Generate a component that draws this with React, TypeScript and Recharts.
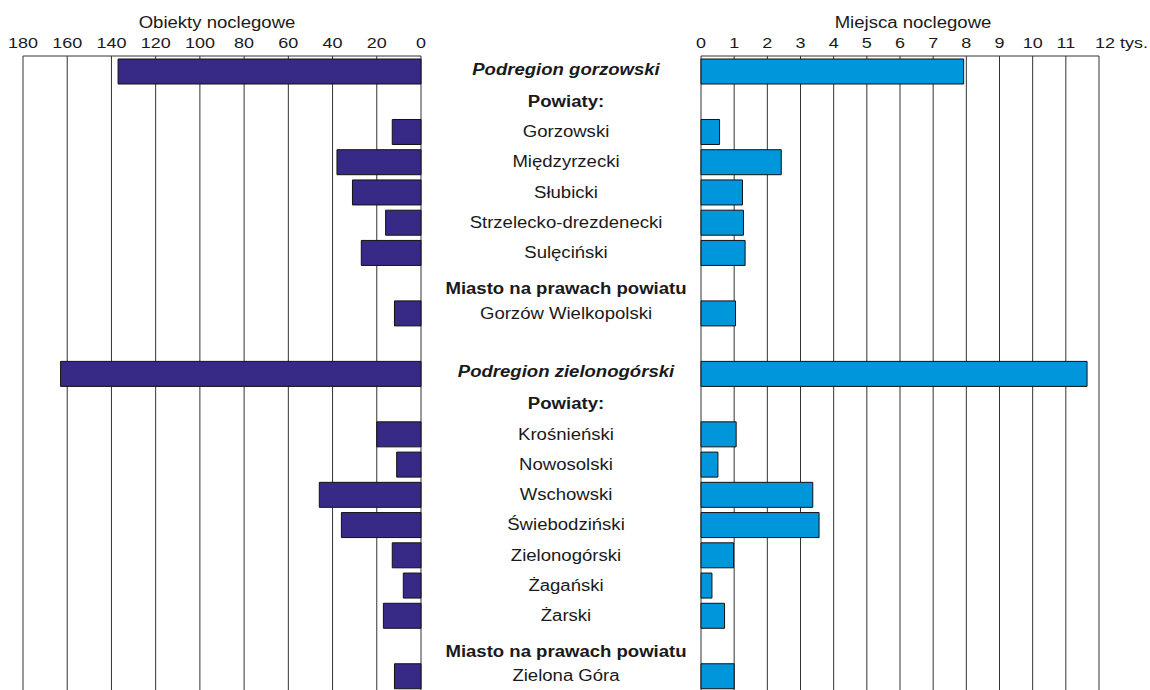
import React from "react";
import { BarChart, Bar, XAxis, YAxis, CartesianGrid } from "recharts";

const categories = [
  "Podregion gorzowski",
  "Powiaty:",
  "Gorzowski",
  "Międzyrzecki",
  "Słubicki",
  "Strzelecko-drezdenecki",
  "Sulęciński",
  "Miasto na prawach powiatu",
  "Gorzów Wielkopolski",
  "",
  "Podregion zielonogórski",
  "Powiaty:",
  "Krośnieński",
  "Nowosolski",
  "Wschowski",
  "Świebodziński",
  "Zielonogórski",
  "Żagański",
  "Żarski",
  "Miasto na prawach powiatu",
  "Zielona Góra",
];

const obiekty: (number | null)[] = [137, null, 13, 38, 31, 16, 27, null, 12, null, 163, null, 20, 11, 46, 36, 13, 8, 17, null, 12];
const miejsca: (number | null)[] = [7.92, null, 0.56, 2.42, 1.25, 1.28, 1.33, null, 1.04, null, 11.64, null, 1.06, 0.51, 3.37, 3.56, 0.98, 0.33, 0.71, null, 1.0];

const leftTicks = [0, 20, 40, 60, 80, 100, 120, 140, 160, 180];
const rightTicks = [0, 1, 2, 3, 4, 5, 6, 7, 8, 9, 10, 11, 12];

const data = categories.map((name, i) => ({
  key: "r" + i,
  name,
  obiekty: obiekty[i],
  miejsca: miejsca[i],
}));

const FONT = "'Liberation Sans', Arial, Helvetica, sans-serif";
const SX = 1.16;
const TXT = "#1a1a1a";

const TopTick = (props: any) => {
  const { x, payload, last } = props;
  const isLast = last && payload.value === 12;
  return (
    <text
      transform={`translate(${isLast ? x - 4 : x} 48) scale(${SX} 1)`}
      textAnchor={isLast ? "start" : "middle"}
      fontFamily={FONT}
      fontSize={15.5}
      fill={TXT}
    >
      {isLast ? "12 tys." : String(payload.value)}
    </text>
  );
};

const LabelTick = (props: any) => {
  const { y, payload } = props;
  const idx = parseInt(String(payload.value).slice(1), 10);
  const name = categories[idx] || "";
  const isRegion = name.startsWith("Podregion");
  const isHeader = name === "Powiaty:" || name.startsWith("Miasto");
  const dy = name.startsWith("Miasto") ? 6 : isRegion ? -2 : 0;
  return (
    <text
      transform={`translate(566 ${y + dy}) scale(${SX} 1)`}
      dy="0.35em"
      textAnchor="middle"
      fontFamily={FONT}
      fontSize={16}
      fontWeight={isRegion || isHeader ? "bold" : "normal"}
      fontStyle={isRegion ? "italic" : "normal"}
      fill={TXT}
    >
      {name}
    </text>
  );
};

export default function App() {
  return (
    <div
      style={{
        position: "absolute",
        left: 0,
        top: 0,
        width: 1150,
        height: 690,
        overflow: "hidden",
        background: "#fff",
        fontFamily: FONT,
      }}
    >
      <div style={{ position: "absolute", left: 0, top: 0 }}>
        <BarChart
          width={700}
          height={691}
          data={data}
          layout="vertical"
          margin={{ top: 0, right: 0, bottom: 0, left: 23 }}
          barCategoryGap={0}
        >
          <CartesianGrid horizontal={false} vertical={true} stroke="#333" strokeWidth={1} />
          <XAxis
            type="number"
            orientation="top"
            domain={[0, 180]}
            ticks={leftTicks}
            reversed
            height={56}
            axisLine={{ stroke: "#333" }}
            tickLine={false}
            tick={<TopTick />}
            interval={0}
          />
          <YAxis
            type="category"
            dataKey="key"
            orientation="right"
            width={279}
            axisLine={false}
            tickLine={false}
            tick={<LabelTick />}
            interval={0}
          />
          <Bar dataKey="obiekty" fill="#372A87" stroke="#111" strokeWidth={1} barSize={25} isAnimationActive={false} />
        </BarChart>
      </div>
      <div style={{ position: "absolute", left: 0, top: 0 }}>
        <BarChart
          width={1150}
          height={691}
          data={data}
          layout="vertical"
          margin={{ top: 0, right: 51, bottom: 0, left: 701 }}
          barCategoryGap={0}
        >
          <CartesianGrid horizontal={false} vertical={true} stroke="#333" strokeWidth={1} />
          <XAxis
            type="number"
            orientation="top"
            domain={[0, 12]}
            ticks={rightTicks}
            height={56}
            axisLine={{ stroke: "#333" }}
            tickLine={false}
            tick={<TopTick last />}
            interval={0}
          />
          <YAxis type="category" dataKey="key" hide />
          <Bar dataKey="miejsca" fill="#0096DC" stroke="#111" strokeWidth={1} barSize={25} isAnimationActive={false} />
        </BarChart>
      </div>
      <svg
        width={1150}
        height={40}
        style={{ position: "absolute", left: 0, top: 0, pointerEvents: "none" }}
      >
        <text transform={`translate(217 28) scale(${SX} 1)`} textAnchor="middle" fontFamily={FONT} fontSize={16} fill={TXT}>
          Obiekty noclegowe
        </text>
        <text transform={`translate(913 28) scale(${SX} 1)`} textAnchor="middle" fontFamily={FONT} fontSize={16} fill={TXT}>
          Miejsca noclegowe
        </text>
      </svg>
    </div>
  );
}
